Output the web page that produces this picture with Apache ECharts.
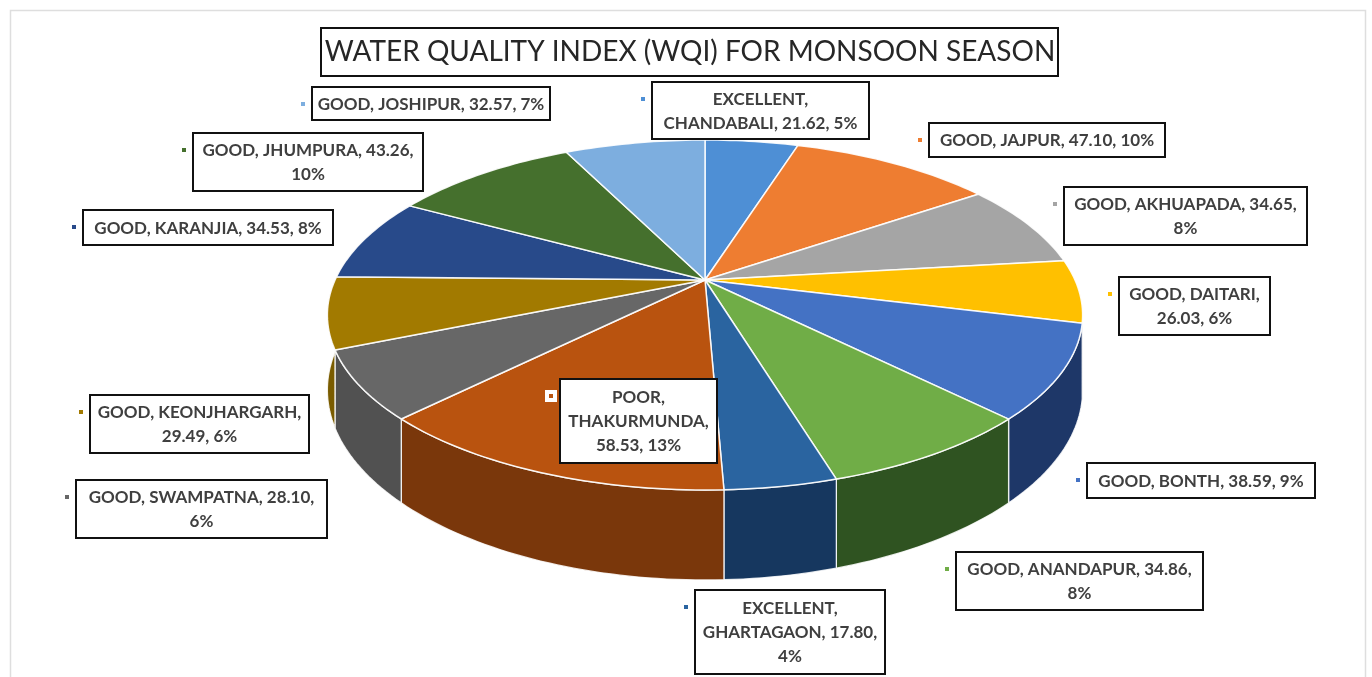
<!DOCTYPE html>
<html>
<head>
<meta charset="utf-8">
<title>Water Quality Index (WQI) for Monsoon Season</title>
<script src="https://cdn.jsdelivr.net/npm/echarts@6/dist/echarts.min.js"></script>
<style>
  html, body { margin: 0; padding: 0; background: #ffffff; }
  #chart { width: 1372px; height: 677px; }
</style>
</head>
<body>
<div id="chart"></div>
<script>
// ---- data (clockwise from 12 o'clock) ----
const stations = ['CHANDABALI', 'JAJPUR', 'AKHUAPADA', 'DAITARI', 'BONTH', 'ANANDAPUR',
  'GHARTAGAON', 'THAKURMUNDA', 'SWAMPATNA', 'KEONJHARGARH', 'KARANJIA', 'JHUMPURA', 'JOSHIPUR'];
const quality = ['EXCELLENT', 'GOOD', 'GOOD', 'GOOD', 'GOOD', 'GOOD',
  'EXCELLENT', 'POOR', 'GOOD', 'GOOD', 'GOOD', 'GOOD', 'GOOD'];
const wqi = [21.62, 47.10, 34.65, 26.03, 38.59, 34.86, 17.80, 58.53, 28.10, 29.49, 34.53, 43.26, 32.57];
const shares = ['5%', '10%', '8%', '6%', '9%', '8%', '4%', '13%', '6%', '6%', '8%', '10%', '7%'];

// ---- styles ----
const topColors = ['#4E8FD5', '#EE7D31', '#A5A5A5', '#FFC000', '#4472C4', '#70AD47',
  '#2A64A0', '#B9530F', '#676767', '#A27A00', '#284A8A', '#45702D', '#7DAEDF'];
const wallColors = ['#2F5F93', '#A4521C', '#6E6E6E', '#A67C00', '#1E3768', '#2F5321',
  '#16375F', '#7A370B', '#515151', '#7A5C00', '#1A3160', '#2C4A1D', '#4F7FAE'];

// ---- label layout: box [left, top, width, height] and the comma-parts after which a line breaks ----
const labelBoxes = [
  [652, 82, 217, 57], [929, 123, 236, 34], [1064, 187, 243, 58], [1119, 277, 151, 58],
  [1087, 463, 228, 35], [956, 552, 247, 58], [695, 590, 190, 84], [560, 379, 157, 84],
  [76, 480, 251, 58], [90, 395, 219, 58], [83, 210, 250, 35], [193, 133, 230, 58], [312, 87, 238, 33]
];
const labelBreaks = [[1], [], [3], [2], [], [3], [1, 3], [1, 2], [3], [2], [], [3], []];

// ---- tilted disc geometry ----
const CX = 705, CY = 280;      // disc centre on screen
const RX = 370, RY = 168;      // horizontal radius, depth foreshortening
const PERSP = 0.2;             // perspective strength (front larger than back)
const DEPTH = 72;              // thickness of the disc

const total = wqi.reduce((a, b) => a + b, 0);
const startDeg = [], endDeg = [];
let acc = 0;
wqi.forEach(v => { startDeg.push(acc / total * 360); acc += v; endDeg.push(acc / total * 360); });

function project(deg, drop) {
  const t = deg * Math.PI / 180;
  const X = Math.sin(t), Y = -Math.cos(t);
  const f = 1 / (1 - PERSP * Y);
  return [CX + RX * X * f, CY + (RY * Y + drop) * f];
}
function arc(a0, a1, drop) {
  const n = Math.max(2, Math.ceil((a1 - a0) / 1.2));
  const pts = [];
  for (let i = 0; i <= n; i++) pts.push(project(a0 + (a1 - a0) * i / n, drop));
  return pts;
}

function labelText(i) {
  const parts = [quality[i], stations[i], wqi[i].toFixed(2), shares[i]];
  const lines = [];
  let cur = [];
  parts.forEach((p, k) => {
    cur.push(p);
    if (labelBreaks[i].indexOf(k + 1) >= 0) { lines.push(cur.join(', ') + ','); cur = []; }
  });
  lines.push(cur.join(', '));
  return lines.join('\n');
}

const LABEL_FONT = 'Lato, "Open Sans", sans-serif';
const graphics = [
  { type: 'rect', z: 0, silent: true,
    shape: { x: 10.5, y: 10.5, width: 1355, height: 720 },
    style: { fill: null, stroke: '#dedede', lineWidth: 1.5 } },
  { type: 'rect', z: 100, silent: true,
    shape: { x: 321, y: 28, width: 737, height: 48 },
    style: { fill: '#ffffff', stroke: '#111111', lineWidth: 2 } }
];
labelBoxes.forEach((b, i) => {
  const [l, t, w, h] = b;
  graphics.push({ type: 'rect', z: 100, silent: true,
    shape: { x: l - 15, y: t + 11, width: 12, height: 12 },
    style: { fill: '#ffffff' } });
  graphics.push({ type: 'rect', z: 101, silent: true,
    shape: { x: l - 11, y: t + 15, width: 4, height: 4 },
    style: { fill: topColors[i] } });
  graphics.push({ type: 'rect', z: 100, silent: true,
    shape: { x: l, y: t, width: w, height: h },
    style: { fill: '#ffffff', stroke: '#111111', lineWidth: 2 } });
  graphics.push({ type: 'text', z: 101, silent: true,
    x: l + w / 2, y: t + h / 2 + 1,
    style: { text: labelText(i), align: 'center', verticalAlign: 'middle',
      font: 'bold 17px ' + LABEL_FONT, lineHeight: 24, fill: '#3F3F3F' } });
});

const chart = echarts.init(document.getElementById('chart'));
chart.setOption({
  animation: false,
  backgroundColor: '#ffffff',
  title: {
    text: 'WATER QUALITY INDEX (WQI) FOR MONSOON SEASON',
    left: 690, top: 37, textAlign: 'center', padding: 0, z: 110,
    textStyle: { fontFamily: LABEL_FONT, fontSize: 28, fontWeight: 'normal', color: '#262626', lineHeight: 30 }
  },
  graphic: { elements: graphics },
  series: [
    {
      // side walls of the front half
      type: 'custom', name: 'walls', coordinateSystem: 'none', silent: true, z: 2,
      data: wqi,
      renderItem(params) {
        const i = params.dataIndex;
        const a0 = Math.max(startDeg[i], 90), a1 = Math.min(endDeg[i], 270);
        if (a1 <= a0) return { type: 'group', children: [] };
        const pts = arc(a0, a1, 0).concat(arc(a0, a1, DEPTH).reverse());
        return { type: 'polygon', shape: { points: pts },
          style: { fill: wallColors[i], stroke: 'rgba(255,255,255,0.85)', lineWidth: 1.3, lineJoin: 'round' } };
      }
    },
    {
      // top faces of the slices
      type: 'custom', name: 'WQI', coordinateSystem: 'none', silent: true, z: 3,
      data: wqi,
      renderItem(params) {
        const i = params.dataIndex;
        const pts = [[CX, CY]].concat(arc(startDeg[i], endDeg[i], 0));
        return { type: 'polygon', shape: { points: pts },
          style: { fill: topColors[i], stroke: 'rgba(255,255,255,0.9)', lineWidth: 1.5, lineJoin: 'round' } };
      }
    }
  ]
});
</script>
</body>
</html>
